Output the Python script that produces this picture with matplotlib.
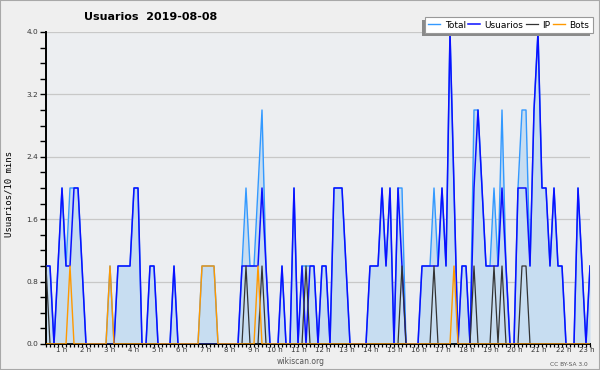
import numpy as np
import matplotlib.pyplot as plt
from matplotlib.patches import Rectangle
from matplotlib.transforms import offset_copy

# --- values: one point per 10 minutes from 00:00 ---
usuarios = [1, 1, 0, 1, 2, 1, 1, 2, 2, 1, 0, 0,
            0, 0, 0, 0, 0, 0, 1, 1, 1, 1, 2, 2,
            0, 0, 1, 1, 0, 0, 0, 0, 1, 0, 0, 0,
            0, 0, 0, 0, 0, 0, 0, 0, 0, 0, 0, 0,
            0, 1, 1, 1, 1, 1, 2, 1, 0, 0, 0, 1,
            0, 0, 2, 0, 1, 0, 1, 1, 0, 1, 1, 0,
            2, 2, 2, 1, 0, 0, 0, 0, 0, 1, 1, 1,
            2, 1, 2, 0, 2, 1, 0, 0, 0, 0, 1, 1,
            1, 1, 1, 2, 1, 4, 2, 0, 1, 1, 0, 2,
            3, 2, 1, 1, 1, 1, 2, 1, 0, 0, 2, 2,
            2, 1, 3, 4, 2, 2, 1, 2, 1, 1, 0, 0,
            0, 2, 1, 0, 1]
total = [1, 1, 0, 1, 2, 1, 2, 2, 2, 1, 0, 0,
         0, 0, 0, 0, 1, 0, 1, 1, 1, 1, 2, 2,
         0, 0, 1, 1, 0, 0, 0, 0, 1, 0, 0, 0,
         0, 0, 0, 1, 1, 1, 1, 0, 0, 0, 0, 0,
         0, 1, 2, 1, 1, 2, 3, 1, 0, 0, 0, 1,
         0, 0, 2, 0, 1, 1, 1, 1, 0, 1, 1, 0,
         2, 2, 2, 1, 0, 0, 0, 0, 0, 1, 1, 1,
         2, 1, 2, 0, 2, 2, 0, 0, 0, 0, 1, 1,
         1, 2, 1, 2, 1, 4, 2, 0, 1, 1, 0, 3,
         3, 2, 1, 1, 2, 1, 3, 1, 0, 0, 2, 3,
         3, 1, 3, 4, 2, 2, 1, 2, 1, 1, 0, 0,
         0, 2, 1, 0, 1]
ip = [1, 0, 0, 0, 0, 0, 0, 0, 0, 0, 0, 0,
      0, 0, 0, 0, 0, 0, 0, 0, 0, 0, 0, 0,
      0, 0, 0, 0, 0, 0, 0, 0, 0, 0, 0, 0,
      0, 0, 0, 0, 0, 0, 0, 0, 0, 0, 0, 0,
      0, 0, 1, 0, 0, 0, 1, 0, 0, 0, 0, 0,
      0, 0, 0, 0, 0, 1, 0, 0, 0, 0, 0, 0,
      0, 0, 0, 0, 0, 0, 0, 0, 0, 0, 0, 0,
      0, 0, 0, 0, 0, 1, 0, 0, 0, 0, 0, 0,
      0, 1, 0, 0, 0, 0, 0, 0, 0, 0, 0, 1,
      0, 0, 0, 0, 1, 0, 1, 0, 0, 0, 0, 1,
      1, 0, 0, 0, 0, 0, 0, 0, 0, 0, 0, 0,
      0, 0, 0, 0, 0]
bots = [0, 0, 0, 0, 0, 0, 1, 0, 0, 0, 0, 0,
        0, 0, 0, 0, 1, 0, 0, 0, 0, 0, 0, 0,
        0, 0, 0, 0, 0, 0, 0, 0, 0, 0, 0, 0,
        0, 0, 0, 1, 1, 1, 1, 0, 0, 0, 0, 0,
        0, 0, 0, 0, 0, 1, 0, 0, 0, 0, 0, 0,
        0, 0, 0, 0, 0, 0, 0, 0, 0, 0, 0, 0,
        0, 0, 0, 0, 0, 0, 0, 0, 0, 0, 0, 0,
        0, 0, 0, 0, 0, 0, 0, 0, 0, 0, 0, 0,
        0, 0, 0, 0, 0, 0, 1, 0, 0, 0, 0, 0,
        0, 0, 0, 0, 0, 0, 0, 0, 0, 0, 0, 0,
        0, 0, 0, 0, 0, 0, 0, 0, 0, 0, 0, 0,
        0, 0, 0, 0, 0]
hours = list(range(1, 24))
y_labels = ['0.0', '0.8', '1.6', '2.4', '3.2', '4.0']

x = np.arange(len(usuarios))

fig = plt.figure(figsize=(6, 3.7), dpi=100, facecolor='#efefef')
ax = fig.add_axes([46/600, 1 - 344/370, 544/600, 312/370])
ax.set_facecolor('#eceef1')

# filled area under the total, then the four series
ax.fill_between(x, total, color='#c7ddf1', lw=0, zorder=1)
ax.plot(x, total, color='#3399ff', lw=1.0, label='Total', zorder=2)
ax.plot(x, usuarios, color='#0a10ff', lw=1.1, label='Usuarios', zorder=3)
ax.plot(x, ip, color='#333333', lw=0.9, label='IP', zorder=4)
ax.plot(x, bots, color='#ff9900', lw=1.0, label='Bots', zorder=4)

ax.set_xlim(0, len(usuarios) - 1)
ax.set_ylim(0, 4.0)

# axes, ticks and grid
for s in ['top', 'right']:
    ax.spines[s].set_visible(False)
for s in ['left', 'bottom']:
    ax.spines[s].set_linewidth(1.4)
ax.set_yticks([float(v) for v in y_labels])
ax.set_yticklabels(y_labels)
ax.set_yticks(np.arange(0, 4.01, 0.2), minor=True)
ax.tick_params(axis='y', which='both', length=4, width=1, pad=1.5,
               labelsize=5.3, labelcolor='#333333')
ax.set_xticks(x, minor=True)
ax.set_xticks([])
ax.tick_params(axis='x', which='minor', length=2.5, width=0.9)
ax.yaxis.grid(True, which='major', color='#c8c8c8', lw=0.9)
ax.set_axisbelow(True)

# hour labels sit just left of their tick
lab_tr = offset_copy(ax.get_xaxis_transform(), fig=fig, x=-3, y=-3, units='dots')
for h in hours:
    ax.text(6 * h, 0, f'{h} h', transform=lab_tr, ha='right', va='top',
            fontsize=5, color='#333333', clip_on=False)

# legend with a hard drop shadow
leg = ax.legend(ncol=4, loc='upper right', bbox_to_anchor=(593/600, 1 - 17/370),
                bbox_transform=fig.transFigure, fontsize=6.5, frameon=True,
                fancybox=False, edgecolor='#999999', facecolor='white', framealpha=1,
                handlelength=1.3, handletextpad=0.5, columnspacing=0.3,
                borderpad=0.4, borderaxespad=0)
leg.get_frame().set_linewidth(0.8)
leg.set_zorder(6)
fig.canvas.draw()
bb = leg.get_window_extent().transformed(fig.transFigure.inverted())
ax.add_artist(Rectangle((bb.x0 - 3/600, bb.y0 - 3/370), bb.width, bb.height,
                        transform=fig.transFigure, facecolor='#8a8a8a',
                        edgecolor='none', zorder=5.5, clip_on=False))

fig.text(151/600, 1 - 16.5/370, 'Usuarios  2019-08-08', fontsize=8,
         fontweight='bold', ha='center', va='center')
fig.text(9/600, 1 - 194/370, 'Usuarios/10 mins', rotation=90, fontsize=6.5,
         family='DejaVu Sans Mono', ha='center', va='center')
fig.text(301/600, 1 - 362/370, 'wikiscan.org', fontsize=5.5, color='#555555',
         ha='center', va='center')
fig.text(569/600, 1 - 364/370, 'CC BY-SA 3.0', fontsize=4.2, color='#555555',
         ha='center', va='center')
fig.patches.append(Rectangle((0, 0), 1, 1, transform=fig.transFigure, fill=False,
                             edgecolor='#a8a8a8', lw=1.5))

fig.savefig('out.png', dpi=100, facecolor=fig.get_facecolor())
